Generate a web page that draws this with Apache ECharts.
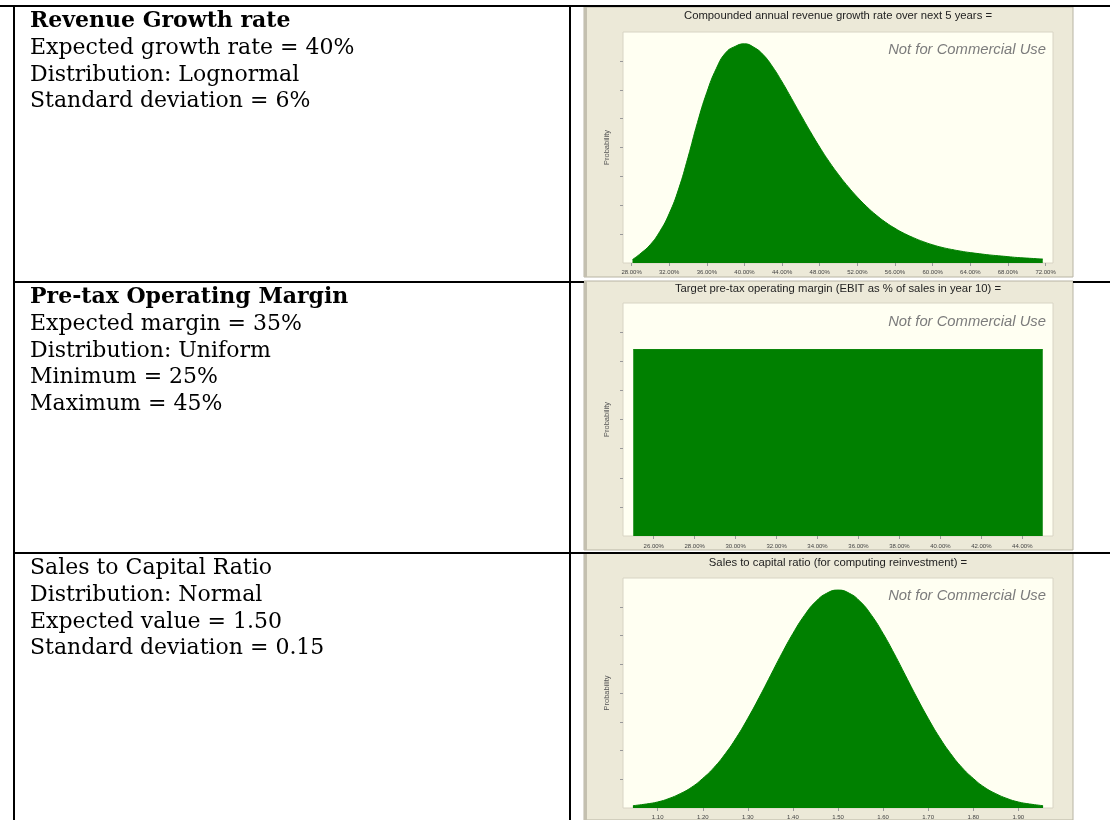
<!DOCTYPE html>
<html><head><meta charset="utf-8">
<script src="https://cdn.jsdelivr.net/npm/echarts@6/dist/echarts.min.js"></script>
<style>html,body{margin:0;padding:0;background:#fff;}#c{width:1110px;height:820px;}</style>
</head><body><div id="c"></div>
<script>
// ---- text content ----
const rowTitles = ['Revenue Growth rate', 'Pre-tax Operating Margin', 'Sales to Capital Ratio'];
const rowTitleBold = [true, true, false];
const rowLines = [
  ['Expected growth rate = 40%', 'Distribution: Lognormal', 'Standard deviation = 6%'],
  ['Expected margin = 35%', 'Distribution: Uniform', 'Minimum = 25%', 'Maximum = 45%'],
  ['Distribution: Normal', 'Expected value = 1.50', 'Standard deviation = 0.15']
];
const chartTitles = [
  'Compounded annual revenue growth rate over next 5 years =',
  'Target pre-tax operating margin (EBIT as % of sales in year 10) =',
  'Sales to capital ratio (for computing reinvestment) ='
];
const watermark = 'Not for Commercial Use';
const yAxisName = 'Probability';

// ---- chart 1: revenue growth (lognormal), x in %, y in probability-tick units ----
const growthX = [28.1, 29, 30, 31, 32, 33, 34, 35, 36, 37, 38, 39, 40, 41, 42, 43, 44, 45, 46, 47, 48, 49, 50,
  51, 52, 53, 54, 55, 56, 57, 58, 59, 60, 61, 62, 63, 64, 65, 66, 67, 68, 69, 70, 71, 71.7];
const growthY = [0.12, 0.34, 0.64, 1.09, 1.71, 2.56, 3.66, 4.86, 5.91, 6.73, 7.28, 7.50, 7.59, 7.47, 7.21, 6.79, 6.27, 5.70, 5.12, 4.55, 4.01, 3.51, 3.06,
  2.65, 2.28, 1.95, 1.66, 1.41, 1.20, 1.02, 0.87, 0.74, 0.63, 0.54, 0.47, 0.41, 0.36, 0.32, 0.28, 0.25, 0.22, 0.19, 0.17, 0.15, 0.14];
const growthTicks = [28, 32, 36, 40, 44, 48, 52, 56, 60, 64, 68, 72];

// ---- chart 2: operating margin (uniform) ----
const marginX = [25, 45];
const marginY = [6.4, 6.4];
const marginTicks = [26, 28, 30, 32, 34, 36, 38, 40, 42, 44];

// ---- chart 3: sales to capital (normal) ----
const salesX = [1.045, 1.075, 1.10, 1.125, 1.15, 1.175, 1.20, 1.225, 1.25, 1.275, 1.30, 1.325, 1.35, 1.375, 1.40, 1.425, 1.45, 1.475, 1.50,
  1.525, 1.55, 1.575, 1.60, 1.625, 1.65, 1.675, 1.70, 1.725, 1.75, 1.775, 1.80, 1.825, 1.85, 1.875, 1.90, 1.925, 1.955];
const salesY = [0.08, 0.14, 0.21, 0.33, 0.5, 0.72, 1.03, 1.41, 1.89, 2.46, 3.12, 3.84, 4.6, 5.36, 6.07, 6.69, 7.17, 7.47, 7.58,
  7.47, 7.17, 6.69, 6.07, 5.36, 4.6, 3.84, 3.12, 2.46, 1.89, 1.41, 1.03, 0.72, 0.5, 0.33, 0.21, 0.14, 0.08];
const salesTicks = [1.1, 1.2, 1.3, 1.4, 1.5, 1.6, 1.7, 1.8, 1.9];

const probTicks = [1, 2, 3, 4, 5, 6, 7];

// ---- layout ----
const panelX = 584, panelW = 489;
const panels = [{y: 7, h: 270}, {y: 281, h: 269}, {y: 553, h: 267}];
const grids = [{top: 32, height: 231}, {top: 303, height: 233}, {top: 578, height: 231}];
const xRanges = [[27.09, 72.79], [24.5, 45.5], [1.023, 1.977]];
const labelMargins = [6, 7, 6];
const rowTops = [6, 282, 553];
const lineH = 26.75;

const GREEN = '#008000';

const zip = (xs, ys) => xs.map((x, i) => [x, ys[i]]);
const seriesData = [zip(growthX, growthY), zip(marginX, marginY), zip(salesX, salesY)];
const tickSets = [growthTicks, marginTicks, salesTicks];
const fmts = [v => v.toFixed(2) + '%', v => v.toFixed(2) + '%', v => v.toFixed(2)];

const graphic = [];
// chart panels
panels.forEach(p => {
  graphic.push({type: 'rect', z: -5, shape: {x: panelX, y: p.y, width: panelW, height: p.h},
    style: {fill: '#ECE9D8', stroke: '#B8B4A4', lineWidth: 1}});
  graphic.push({type: 'rect', z: -4, shape: {x: panelX, y: p.y, width: 3, height: p.h},
    style: {fill: '#C4C0B0'}});
});
// table lines
const L = (x1, y1, x2, y2, c) => graphic.push({type: 'line', z: 50, shape: {x1, y1, x2, y2}, style: {stroke: c || '#000', lineWidth: 2}});
L(0, 6, 1110, 6);
L(14, 5, 14, 820);
L(570, 5, 570, 820);
L(14, 282, 584, 282);
L(1073, 282, 1110, 282);
L(14, 553, 1110, 553);
// left text
rowTitles.forEach((t, r) => {
  const lines = [t].concat(rowLines[r]);
  lines.forEach((s, i) => {
    graphic.push({type: 'text', z: 60, x: 30, y: rowTops[r] + 15.5 + i * lineH,
      style: {text: s, fill: '#000', font: ((i === 0 && rowTitleBold[r]) ? 'bold ' : '') + '22px "DejaVu Serif"',
        textVerticalAlign: 'middle', textAlign: 'left'}});
  });
});
// chart titles and watermarks
const titleY = [16, 289, 563];
const wmY = [50, 322, 596];
chartTitles.forEach((t, i) => {
  graphic.push({type: 'text', z: 60, x: 838, y: titleY[i],
    style: {text: t, fill: '#222', font: '11.3px "Liberation Sans"', textAlign: 'center', textVerticalAlign: 'middle'}});
  graphic.push({type: 'text', z: 60, x: 1046, y: wmY[i],
    style: {text: watermark, fill: '#7c7c7c', font: 'italic 14.8px "Liberation Sans"', textAlign: 'right', textVerticalAlign: 'middle'}});
});

const option = {
  animation: false,
  backgroundColor: '#fff',
  grid: grids.map(g => ({left: 623, width: 430, top: g.top, height: g.height, show: true,
    backgroundColor: '#FFFFF2', borderColor: '#D8D4C4', borderWidth: 1})),
  xAxis: grids.map((g, i) => ({
    type: 'value', gridIndex: i, min: xRanges[i][0], max: xRanges[i][1],
    axisLine: {show: false}, splitLine: {show: false},
    axisTick: {show: true, customValues: tickSets[i], length: 3, lineStyle: {color: '#999'}},
    axisLabel: {show: true, customValues: tickSets[i], formatter: fmts[i], fontSize: 6,
      fontFamily: 'Liberation Sans', color: '#444', margin: labelMargins[i]}
  })),
  yAxis: grids.map((g, i) => ({
    type: 'value', gridIndex: i, min: 0, max: 8,
    name: yAxisName, nameLocation: 'middle', nameGap: 12, nameRotate: 90,
    nameTextStyle: {fontSize: 7.5, fontFamily: 'Liberation Sans', color: '#555'},
    axisLine: {show: false}, splitLine: {show: false},
    axisTick: {show: true, customValues: probTicks, length: 3, lineStyle: {color: '#999'}},
    axisLabel: {show: false}
  })),
  series: seriesData.map((d, i) => ({
    type: 'line', xAxisIndex: i, yAxisIndex: i, data: d, showSymbol: false,
    smooth: i === 1 ? false : 0.5,
    lineStyle: {color: GREEN, width: 1}, areaStyle: {color: GREEN, opacity: 1}
  })),
  graphic: graphic
};
const chart = echarts.init(document.getElementById('c'), null, {renderer: 'canvas'});
chart.setOption(option);
</script></body></html>
